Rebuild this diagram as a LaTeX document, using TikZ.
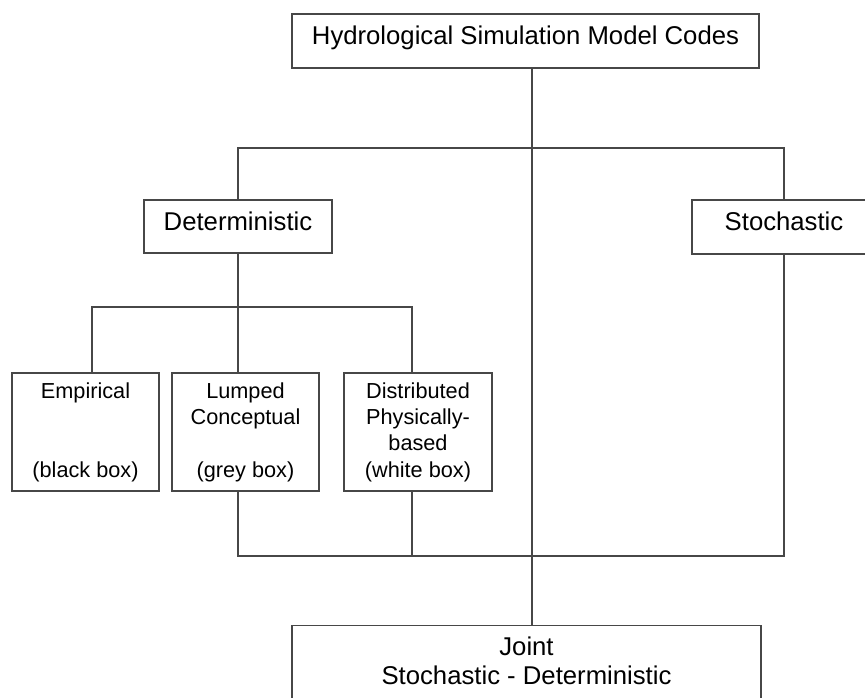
\documentclass[tikz,border=0pt]{standalone}
\usepackage{fontspec}
\setmainfont{Liberation Sans}
\usetikzlibrary{calc}
\begin{document}
\begin{tikzpicture}[x=1pt,y=-1pt,
  line/.style={draw=black!72,line width=1.3pt},
  bigbox/.style={line,fill=white,font=\fontsize{25.7pt}{29pt}\selectfont,text height=18pt,text depth=11pt,inner sep=0pt},
  smallbox/.style={line,fill=white,font=\fontsize{21.7pt}{26.3pt}\selectfont,align=center,minimum width=147pt,minimum height=118pt,inner sep=0pt}]
\useasboundingbox (0,0) rectangle (865,698);
\clip (0,0) rectangle (865,698);
\fill[white] (0,0) rectangle (865,698);
% branch x positions
\coordinate (xE) at (92,0);
\coordinate (xD) at (412,0);
\coordinate (xS) at (532,0);
\coordinate (b1) at (532,148);
\coordinate (b2) at (238,307);
\coordinate (b3) at (532,556);
% nodes
\node[bigbox,minimum width=467pt,minimum height=54pt] (top) at (525.5,41) {Hydrological Simulation Model Codes};
\node[bigbox,minimum width=188pt,minimum height=53pt] (det) at (238,226.5) {Deterministic};
\node[bigbox,minimum width=184pt,minimum height=54pt] (sto) at (784,227) {Stochastic};
\node[smallbox] (emp) at (85.5,432) {Empirical\\[52.6pt](black box)};
\node[smallbox] (lum) at (245.5,432) {Lumped\\Conceptual\\[26.3pt](grey box)};
\node[smallbox,minimum width=148pt] (dis) at (418,432) {Distributed\\Physically-\\based\\(white box)};
\node[line,fill=white,anchor=north,minimum width=469pt,inner xsep=0pt,inner ysep=11.6pt,align=center,
  font=\fontsize{25.7pt}{29pt}\selectfont] (joint) at (526.5,625)
  {Joint\\Stochastic - Deterministic\rule[-30pt]{0pt}{30pt}};
% connectors
\draw[line] (top.south -| xS) -- (joint.north -| xS);
\draw[line] (det.north) |- (b1) -| (sto.north);
\draw[line] (det.south) -- (det.south |- lum.north);
\draw[line] (emp.north -| xE) |- (b2) -| (dis.north -| xD);
\draw[line] (det.south |- lum.south) |- (b3) -| (sto.south);
\draw[line] (dis.south -| xD) -- (b3 -| xD);
\end{tikzpicture}
\end{document}
